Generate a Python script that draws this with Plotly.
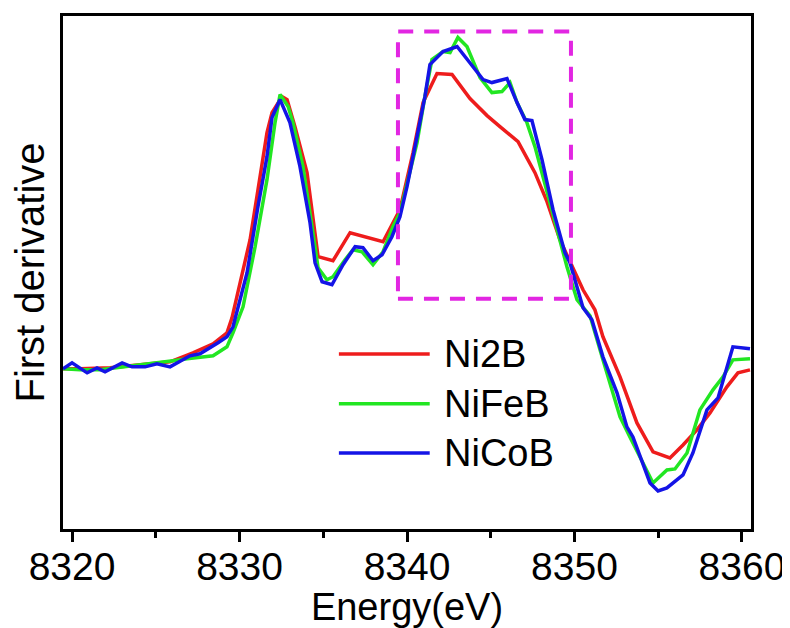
import plotly.graph_objects as go

# Ni K-edge first derivative spectra
ni2b_energy = [8319.46, 8320.48, 8322.27, 8324.24, 8325.85, 8327.22, 8328.42, 8329.25,
               8329.55, 8330.63, 8331.22, 8331.64, 8331.94, 8332.54, 8332.84, 8333.31,
               8334.03, 8334.69, 8335.58, 8336.60, 8338.57, 8339.58, 8340.36, 8340.96,
               8341.79, 8342.69, 8343.76, 8344.78, 8345.55, 8346.63, 8347.64, 8348.36,
               8349.13, 8349.85, 8350.51, 8351.22, 8351.70, 8352.72, 8353.73, 8354.69,
               8355.70, 8356.48, 8357.31, 8358.09, 8359.10, 8359.76, 8360.48]
ni2b_deriv = [-0.02, -0.02, -0.01, 0.02, 0.05, 0.14, 0.23, 0.34,
              0.49, 1.27, 1.87, 2.34, 2.54, 2.70, 2.67, 2.40,
              1.94, 1.10, 1.06, 1.34, 1.25, 1.57, 2.14, 2.64,
              2.93, 2.92, 2.68, 2.51, 2.40, 2.25, 1.94, 1.65,
              1.27, 1.00, 0.77, 0.57, 0.30, -0.10, -0.56, -0.85,
              -0.91, -0.78, -0.63, -0.46, -0.20, -0.06, -0.03]

nifeb_energy = [8319.46, 8320.48, 8321.67, 8323.28, 8325.25, 8326.03, 8326.87, 8328.42,
                8329.25, 8329.61, 8330.21, 8330.93, 8331.64, 8332.12, 8332.42, 8332.90,
                8333.19, 8333.79, 8334.51, 8334.69, 8335.22, 8335.58, 8336.30, 8336.78,
                8337.31, 8337.97, 8338.57, 8339.16, 8339.58, 8339.88, 8340.60, 8341.07,
                8341.49, 8342.15, 8342.57, 8343.04, 8343.58, 8344.36, 8345.07, 8345.67,
                8346.15, 8346.57, 8347.16, 8347.64, 8348.36, 8348.96, 8349.55, 8350.15,
                8350.93, 8351.70, 8352.72, 8353.31, 8354.21, 8354.69, 8355.52, 8356.00,
                8356.72, 8357.49, 8358.27, 8358.87, 8359.46, 8360.48]
nifeb_deriv = [-0.02, -0.03, -0.03, 0.00, 0.04, 0.06, 0.08, 0.11,
               0.20, 0.34, 0.60, 1.20, 1.87, 2.44, 2.72, 2.60,
               2.44, 2.00, 1.20, 0.99, 0.87, 0.90, 1.07, 1.17,
               1.15, 1.02, 1.15, 1.40, 1.54, 1.74, 2.24, 2.70,
               3.07, 3.15, 3.14, 3.29, 3.20, 2.89, 2.74, 2.75,
               2.84, 2.64, 2.44, 2.20, 1.74, 1.37, 1.00, 0.67,
               0.51, 0.07, -0.50, -0.70, -1.00, -1.16, -1.03, -1.02,
               -0.86, -0.43, -0.23, -0.10, 0.07, 0.08]

nicob_energy = [8319.46, 8320.00, 8320.90, 8321.49, 8321.97, 8322.99, 8323.58, 8324.36,
                8325.07, 8325.85, 8327.04, 8327.64, 8328.72, 8329.25, 8329.61, 8330.45,
                8331.10, 8331.64, 8331.94, 8332.42, 8333.01, 8333.61, 8334.21, 8334.51,
                8334.93, 8335.52, 8336.18, 8336.90, 8337.37, 8337.97, 8338.51, 8339.10,
                8339.58, 8340.00, 8340.60, 8341.07, 8341.37, 8342.15, 8342.99, 8343.76,
                8344.54, 8345.07, 8345.97, 8346.57, 8347.04, 8347.46, 8348.06, 8348.72,
                8349.43, 8349.73, 8350.51, 8351.04, 8351.70, 8352.54, 8353.13, 8353.49,
                8354.51, 8354.99, 8355.52, 8356.48, 8357.07, 8357.91, 8358.57, 8359.46,
                8360.48]
nicob_deriv = [-0.02, 0.04, -0.06, -0.01, -0.05, 0.04, 0.00, 0.00,
               0.03, 0.00, 0.11, 0.13, 0.24, 0.30, 0.40, 0.94,
               1.60, 2.10, 2.49, 2.67, 2.44, 2.00, 1.44, 1.04,
               0.85, 0.82, 1.02, 1.20, 1.19, 1.06, 1.12, 1.30,
               1.50, 1.80, 2.30, 2.70, 3.02, 3.15, 3.20, 3.04,
               2.87, 2.84, 2.88, 2.64, 2.47, 2.46, 2.07, 1.57,
               1.14, 1.04, 0.59, 0.47, 0.10, -0.26, -0.60, -0.70,
               -1.16, -1.24, -1.21, -1.08, -0.86, -0.43, -0.31, 0.20,
               0.18]

series_names = ["Ni2B", "NiFeB", "NiCoB"]
colors = ["#ee1c1c", "#22e622", "#1414e6"]

FONT = "Liberation Sans, Arial, sans-serif"

fig = go.Figure()
for name, xs, ys, c in zip(series_names,
                           [ni2b_energy, nifeb_energy, nicob_energy],
                           [ni2b_deriv, nifeb_deriv, nicob_deriv],
                           colors):
    fig.add_trace(go.Scatter(x=xs, y=ys, mode="lines", name=name,
                             line=dict(color=c, width=3.5), showlegend=False))

# highlighted region
fig.add_shape(type="rect", xref="x", yref="y", x0=8339.46, x1=8349.79, y0=0.68, y1=3.35,
              line=dict(color="#e226e2", width=4, dash="15px,11px"))

# hand-drawn legend to match the long sample lines
legend_rows = [0.341, 0.244, 0.148]
for name, c, yy in zip(series_names, colors, legend_rows):
    fig.add_shape(type="line", xref="paper", yref="paper", x0=0.401, x1=0.533, y0=yy, y1=yy,
                  line=dict(color=c, width=3.5))
    fig.add_annotation(xref="paper", yref="paper", x=0.551, y=yy, text=name, showarrow=False,
                       xanchor="left", yanchor="middle", font=dict(size=38, color="black", family=FONT))

# page body has an 8px margin, so the figure is a bit smaller than the window
fig.update_layout(
    width=782, height=620,
    margin=dict(l=55, r=39, t=8, b=99),
    paper_bgcolor="white", plot_bgcolor="white",
    font=dict(family=FONT, color="black", size=38),
)
fig.update_xaxes(
    range=[8319.46, 8360.54], tickvals=[8320, 8330, 8340, 8350, 8360],
    ticks="outside", ticklen=10, tickwidth=3, tickcolor="black",
    minor=dict(dtick=5, tick0=8320, ticks="outside", ticklen=6, tickwidth=3, tickcolor="black"),
    showline=True, linewidth=3, linecolor="black", mirror=True, showgrid=False, zeroline=False,
    tickfont=dict(size=39, family=FONT), ticklabelstandoff=-9,
    title=dict(text="Energy(eV)", font=dict(size=38, family=FONT), standoff=4),
    automargin=False,
)
fig.update_yaxes(
    range=[-1.62, 3.505], showticklabels=False, ticks="",
    showline=True, linewidth=3, linecolor="black", mirror=True, showgrid=False, zeroline=False,
    title=dict(text="First derivative", font=dict(size=40, family=FONT), standoff=6),
    automargin=False,
)

fig.write_html("out.html")
